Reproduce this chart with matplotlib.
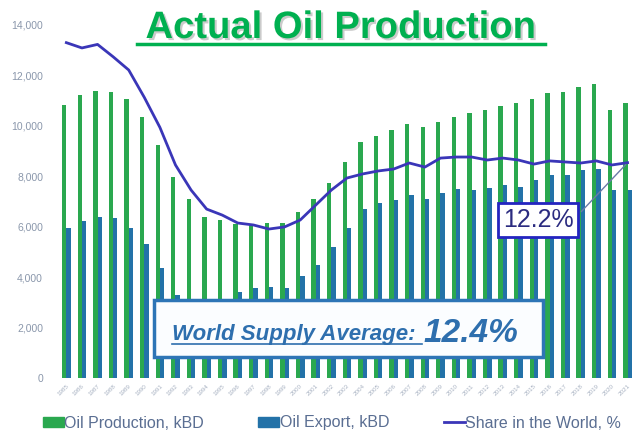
import matplotlib.pyplot as plt
import matplotlib.patheffects as pe
from matplotlib.patches import Rectangle
from matplotlib.lines import Line2D
import numpy as np

plt.rcParams['font.family'] = ['Liberation Sans', 'DejaVu Sans']

# data
years = list(range(1985, 2022))
production = [10830, 11230, 11400, 11340, 11060, 10340, 9250, 7990, 7100, 6380,
              6270, 6100, 6100, 6130, 6130, 6600, 7100, 7740, 8580, 9340,
              9600, 9840, 10070, 9970, 10140, 10370, 10500, 10630, 10790, 10900,
              11070, 11320, 11360, 11530, 11670, 10630, 10920]
export = [5940, 6240, 6380, 6360, 5960, 5320, 4350, 3290, 3000, 3050,
          3100, 3420, 3560, 3620, 3560, 4030, 4470, 5210, 5940, 6690,
          6930, 7040, 7240, 7110, 7330, 7480, 7460, 7520, 7660, 7590,
          7860, 8060, 8060, 8250, 8280, 7460, 7460]
share = [19.0, 18.7, 18.9, 18.2, 17.45, 15.9, 14.2, 12.07, 10.65, 9.57,
         9.23, 8.78, 8.67, 8.44, 8.56, 8.95, 9.8, 10.65, 11.33, 11.56,
         11.73, 11.84, 12.18, 11.95, 12.46, 12.52, 12.52, 12.35, 12.46, 12.35,
         12.12, 12.3, 12.24, 12.18, 12.3, 12.07, 12.2]

green = '#2aa84f'
blue = '#2372a8'
line_c = '#3a36b8'
tick_c = '#8a97ab'

W, H = 633, 433
fig = plt.figure(figsize=(6.33, 4.33), dpi=100)
ax = fig.add_axes([57 / W, 55 / H, (W - 57) / W, (378 - 25) / H])
ax2 = ax.twinx()

x = np.arange(len(years))
bw = 0.28
ax.bar(x - bw / 2, production, bw, color=green, label='Oil Production, kBD')
ax.bar(x + bw / 2, export, bw, color=blue, label='Oil Export, kBD')
ax2.plot(x, share, color=line_c, lw=2, label='Share in the World, %')

ax.set_xlim(-0.6, 36.35)
ax.set_ylim(0, 14000)
ax2.set_ylim(0, 20)
ax2.set_yticks([])
for a in (ax, ax2):
    for s in a.spines.values():
        s.set_visible(False)

ax.set_yticks(range(0, 14001, 2000))
ax.set_yticklabels([f'{v:,}' for v in range(0, 14001, 2000)], color=tick_c, fontsize=7.5)
ax.set_xticks(x)
ax.set_xticklabels([str(y) for y in years], rotation=45, ha='right', va='top',
                   rotation_mode='anchor', fontsize=4.5, color='#a8b2c2')
ax.tick_params(axis='both', length=0, pad=10)
ax.tick_params(axis='x', pad=4)

# title
fig.text(341 / W, 1 - 28 / H, 'Actual Oil Production', ha='center', va='center',
         fontsize=27.5, fontweight='bold', color='#00b050',
         path_effects=[pe.SimplePatchShadow(offset=(1.5, -1.5), shadow_rgbFace='#999999', alpha=0.5), pe.Normal()])
fig.add_artist(Line2D([137 / W, 545 / W], [1 - 43.5 / H, 1 - 43.5 / H], color='#00b050', lw=2.5))

# world supply box
fig.add_artist(Rectangle((154 / W, 1 - 357 / H), (543 - 154) / W, (357 - 300) / H,
                         transform=fig.transFigure, facecolor='#fbfdff', edgecolor='#2e75b6',
                         lw=2.5, zorder=5))
fig.text(172 / W, 1 - 340 / H, 'World Supply Average:', ha='left', va='baseline',
         fontsize=16, fontweight='bold', style='italic', color='#2e6fae', zorder=6)
fig.add_artist(Line2D([172 / W, 422 / W], [1 - 344 / H, 1 - 344 / H], color='#2e6fae', lw=1.2, zorder=6))
fig.text(423 / W, 1 - 342 / H, '12.4%', ha='left', va='baseline',
         fontsize=24, fontweight='bold', style='italic', color='#2e6fae', zorder=6)

# 12.2% callout
ax2.annotate('12.2%', xy=(36, 12.2), xycoords='data',
             xytext=(538 / W, 1 - 220 / H), textcoords='figure fraction',
             ha='center', va='center', fontsize=18, color='#2b2b80',
             bbox=dict(boxstyle='square,pad=0.2', facecolor='white', edgecolor='#2424c0', lw=2),
             arrowprops=dict(arrowstyle='-', color='#6a7aa8', lw=1, relpos=(1, 0.5)))

# legend
handles = [Rectangle((0, 0), 1, 1, color=green), Rectangle((0, 0), 1, 1, color=blue),
           Line2D([0], [0], color=line_c, lw=2)]
labels = ['Oil Production, kBD', 'Oil Export, kBD', 'Share in the World, %']
leg = fig.legend(handles, labels, loc='center', bbox_to_anchor=(332 / W, 1 - 423 / H), ncol=3,
                 frameon=False, fontsize=11.5, handlelength=1.3, handleheight=0.55,
                 handletextpad=0.05, columnspacing=3.4)
for t in leg.get_texts():
    t.set_color('#5a6e92')

fig.savefig('out.png', dpi=100)
